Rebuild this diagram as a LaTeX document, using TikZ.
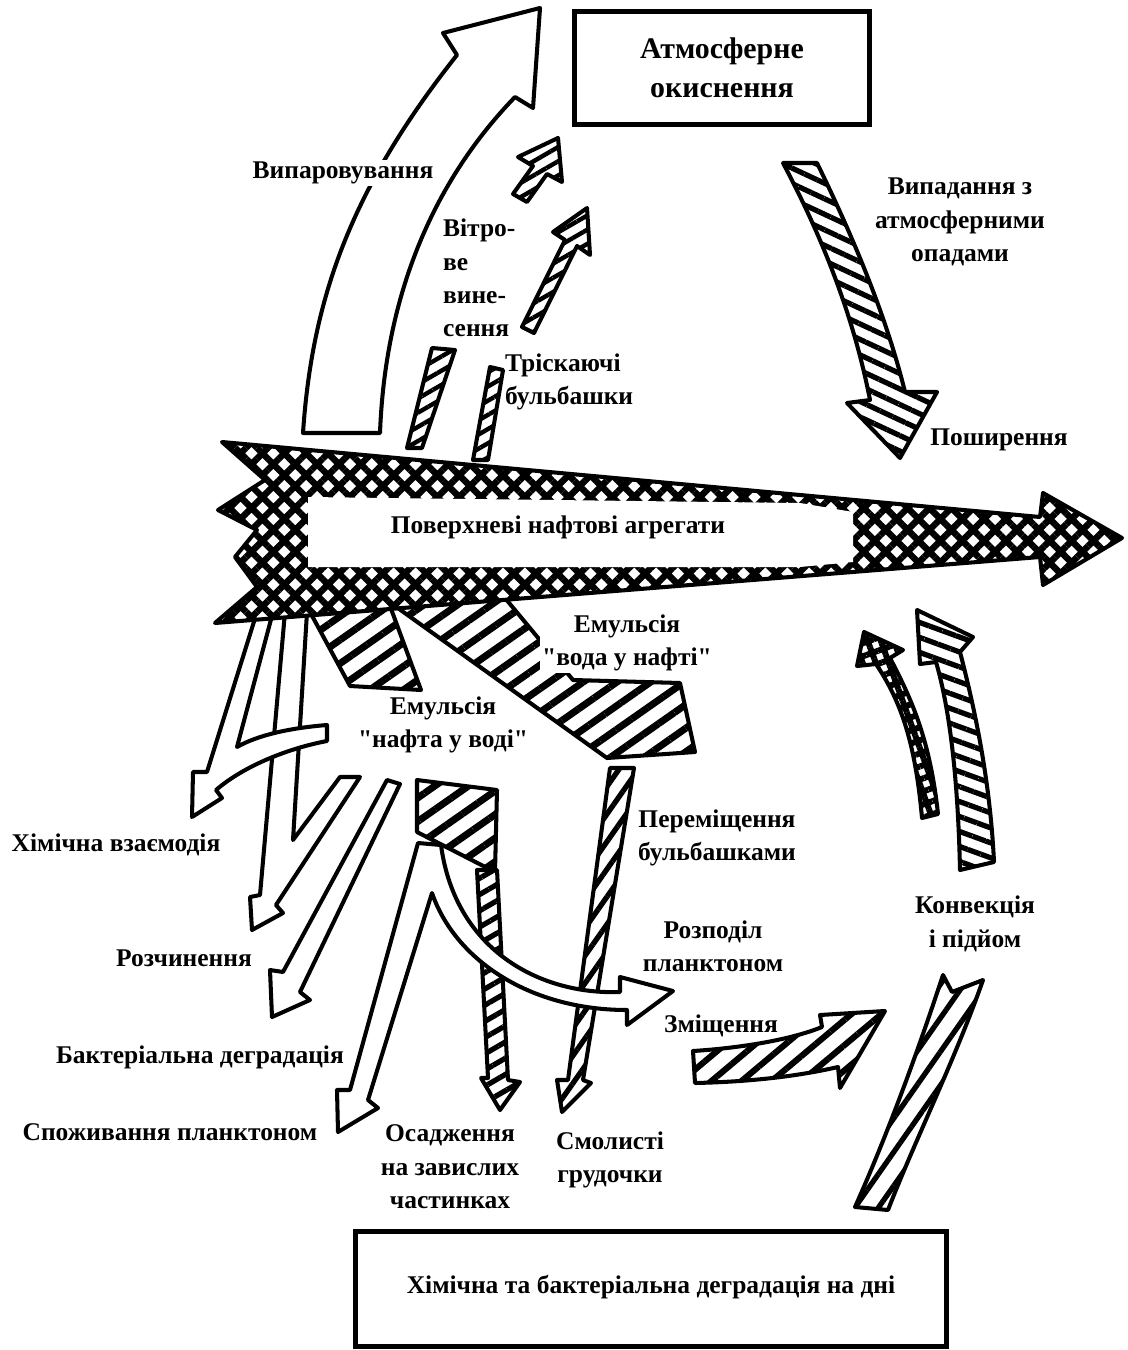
\documentclass[tikz,border=0pt]{standalone}
\usepackage{fontspec}
\setmainfont{Liberation Serif}[Ligatures=TeXOff]
\usetikzlibrary{patterns.meta}
\newcommand{\txt}{\fontsize{14.5}{19}\selectfont\bfseries}
\newcommand{\boxtxt}{\fontsize{17}{21}\selectfont\bfseries}
\tikzset{
  outline/.style={draw=black, line width=2.3pt, line join=round},
  blank/.style={outline, fill=white},
  hatched/.style n args={3}{outline, preaction={fill=white},
              pattern={Lines[angle=#1, distance=#2, line width=#3]}},
  meshed/.style={outline, preaction={fill=white},
              pattern={Hatch[angle=45, distance=8.8pt, line width=3.7pt]}},
  dotted shaft/.style={outline, preaction={fill=white},
              pattern={Hatch[angle=20, distance=7pt, line width=3.4pt]}},
  box/.style={rectangle, draw=black, line width=2.3pt, align=center},
  lbl/.style={inner sep=1pt, align=center},
}
\begin{document}
\begin{tikzpicture}[x=0.2mm, y=-0.2mm, font=\txt]
  \useasboundingbox (0,0) rectangle (1127,1350);
  % Boxes
  \node[box, font=\boxtxt, minimum width=5.9cm, minimum height=2.26cm] (atm) at (722,68)
    {Атмосферне\\[1pt]окиснення};
  \node[box, minimum width=11.82cm, minimum height=2.3cm] (bottom) at (651,1289)
    {\raisebox{2mm}{Хімічна та бактеріальна деградація на дні}};
  % Evaporation
  \draw[blank] (303,433) .. controls (312,300) and (350,190) .. (457,55)
    -- (443,33) -- (540,8) -- (533,108) -- (515,97)
    .. controls (430,185) and (385,300) .. (380,433) -- cycle;
  % Wind transport and bursting bubbles
  \draw[hatched={30}{7pt}{2.5pt}] (407,448) -- (432,348) -- (455,350) -- (422,448) -- cycle;
  \draw[hatched={30}{7pt}{2.5pt}] (513,194) -- (533,166) -- (518,157) -- (558,138)
    -- (562,182) -- (547,174) -- (527,202) -- cycle;
  \draw[hatched={30}{7pt}{2.5pt}] (473,460) -- (490,367) -- (503,370) -- (488,460) -- cycle;
  \draw[hatched={30}{7pt}{2.5pt}] (522,327) -- (565,240) -- (553,232) -- (587,208)
    -- (590,255) -- (577,246) -- (534,333) -- cycle;
  % Fall-out with precipitation
  \draw[hatched={-25}{8pt}{3pt}] (783,163) .. controls (826,244) and (855,323) .. (870,400)
    -- (847,403) -- (900,458) -- (937,392) -- (905,392)
    .. controls (888,323) and (858,247) .. (817,163) -- cycle;
  % Emulsions under the slick
  \draw[hatched={35}{11pt}{4pt}] (310,612) -- (390,606) -- (421,690) -- (350,686) -- cycle;
  \draw[hatched={35}{11pt}{4pt}] (395,606) -- (505,598) -- (573,680) -- (680,683)
    -- (695,752) -- (607,758) -- cycle;
  % Chemical interaction / dissolution / degradation / consumption
  \draw[blank] (285,612) -- (260,895) -- (250,897) -- (252,930) -- (283,913) -- (276,905)
    -- (360,777) -- (340,777) -- (293,840) -- (307,612) -- cycle;
  \draw[blank] (257,612) -- (207,772) -- (193,772) -- (192,817) -- (222,798) -- (216,790)
    .. controls (245,765) and (290,748) .. (327,741) -- (327,725)
    .. controls (290,728) and (258,735) .. (237,747) -- (273,612) -- cycle;
  \draw[blank] (387,780) -- (283,972) -- (270,970) -- (272,1017) -- (310,1000)
    -- (300,992) -- (400,784) -- cycle;
  % Surface oil aggregates
  \draw[meshed] (222,442) -- (1040,517) -- (1043,493) -- (1122,538) -- (1043,585)
    -- (1040,557) -- (215,623) -- (257,587) -- (235,557) -- (257,530) -- (218,510)
    -- (265,480) -- cycle;
  \fill[white] (308,497) -- (800,503) -- (853,512) -- (853,562) -- (800,567) -- (308,567) -- cycle;
  % Sedimentation and bubble transport
  \draw[hatched={35}{11pt}{4pt}] (417,780) -- (497,790) -- (495,872) -- (417,832) -- cycle;
  \draw[hatched={30}{8pt}{3pt}] (477,870) -- (488,1078) -- (481,1078) -- (500,1110)
    -- (520,1082) -- (508,1080) -- (497,870) -- cycle;
  \draw[hatched={55}{9pt}{3pt}] (610,768) -- (568,1080) -- (557,1080) -- (562,1112)
    -- (591,1083) -- (583,1080) -- (634,768) -- cycle;
  % Plankton: consumption and distribution
  \draw[blank] (418,843) -- (350,1090) -- (337,1090) -- (338,1132) -- (378,1108)
    -- (368,1100) -- (432,893) .. controls (455,960) and (530,1010) .. (627,1010)
    -- (627,1025) -- (673,991) -- (620,977) -- (620,992)
    .. controls (540,995) and (455,950) .. (441,845) -- cycle;
  % Shift, convection and rise
  \draw[hatched={40}{11pt}{3.5pt}] (693,1051) .. controls (740,1048) and (790,1040) .. (822,1027)
    -- (820,1015) -- (885,1011) -- (840,1088) -- (838,1067)
    .. controls (790,1078) and (740,1082) .. (695,1083) -- cycle;
  \draw[hatched={55}{11pt}{3pt}] (943,975) -- (952,992) -- (983,980)
    .. controls (955,1060) and (915,1140) .. (888,1210) -- (855,1207)
    .. controls (885,1140) and (915,1060) .. cycle;
  \draw[dotted shaft] (922,818) .. controls (915,740) and (900,700) .. (876,664)
    -- (857,666) -- (864,632) -- (903,650) -- (890,658)
    .. controls (912,700) and (930,740) .. (938,814) -- cycle;
  \draw[hatched={-20}{8pt}{3pt}] (960,870) .. controls (958,780) and (950,710) .. (936,662)
    -- (920,664) -- (917,610) -- (973,637) -- (960,652)
    .. controls (975,710) and (990,780) .. (994,862) -- cycle;
  % Labels
  \node[lbl, fill=white] (evap) at (343,173) {Випаровування};
  \node[lbl, anchor=west, align=left] (wind) at (441,278) {Вітро-\\ве\\вине-\\сення};
  \node[lbl, anchor=west, align=left] (burst) at (503,382) {Тріскаючі\\бульбашки};
  \node[lbl] (fall) at (960,222) {Випадання з\\атмосферними\\опадами};
  \node[lbl] (spread) at (999,440) {Поширення};
  \node[lbl] (surf) at (558,527) {Поверхневі нафтові агрегати};
  \node[lbl, fill=white] (wio) at (627,643) {Емульсія\\"вода у нафті"};
  \node[lbl] (oiw) at (443,725) {Емульсія\\"нафта у воді"};
  \node[lbl] (chem) at (116,845) {Хімічна взаємодія};
  \node[lbl] (diss) at (184,958) {Розчинення};
  \node[lbl] (bact) at (200,1057) {Бактеріальна деградація};
  \node[lbl] (cons) at (170,1132) {Споживання планктоном};
  \node[lbl] (sed) at (450,1167) {Осадження\\на завислих\\частинках};
  \node[lbl] (tar) at (610,1160) {Смолисті\\грудочки};
  \node[lbl] (bub) at (717,838) {Переміщення\\бульбашками};
  \node[lbl] (plank) at (713,946) {Розподіл\\планктоном};
  \node[lbl] (shift) at (721,1026) {Зміщення};
  \node[lbl] (conv) at (975,924) {Конвекція\\і підйом};
\end{tikzpicture}
\end{document}
